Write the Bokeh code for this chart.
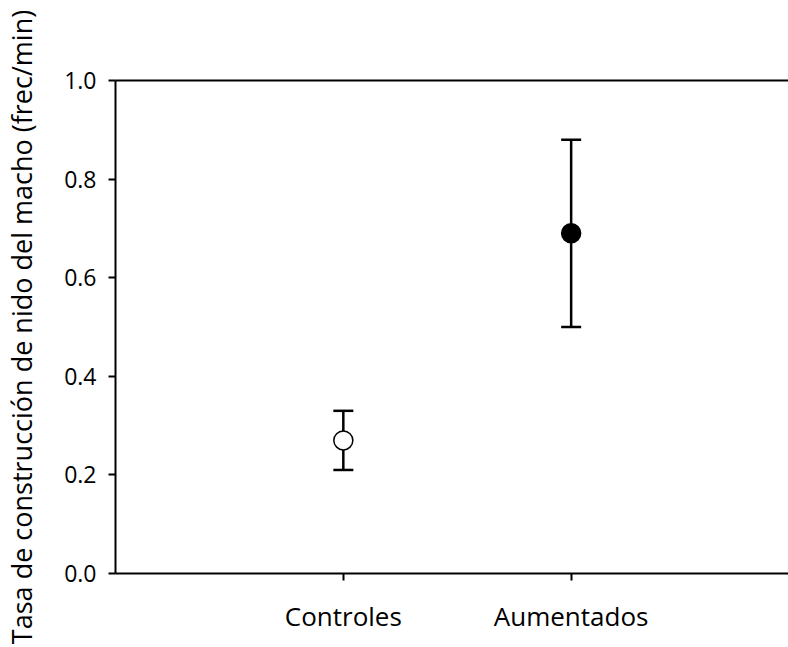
from bokeh.plotting import figure
from bokeh.models import (Range1d, FixedTicker, LinearAxis, Whisker, TeeHead,
                          ColumnDataSource, NumeralTickFormatter)
from bokeh.embed import file_html
from bokeh.resources import INLINE

# Data
categories = ["Controles", "Aumentados"]
positions = [1, 2]
means = [0.27, 0.69]
lower = [0.21, 0.50]
upper = [0.33, 0.88]
fills = ["white", "black"]
y_ticks = [0.0, 0.2, 0.4, 0.6, 0.8, 1.0]
y_label = "Tasa de construcción de nido del macho (frec/min)"

FONT = "Open Sans"

p = figure(width=788, height=647, output_backend="svg", toolbar_location=None,
           x_range=Range1d(0, (788 - 113) / 228.5), y_range=Range1d(0, 1.0),
           min_border_left=113, min_border_right=0, min_border_top=80,
           min_border_bottom=74, x_axis_location=None, y_axis_location=None)
p.outline_line_color = None
p.grid.visible = False
p.background_fill_color = "white"
p.border_fill_color = "white"

# left axis
yaxis = LinearAxis(ticker=FixedTicker(ticks=y_ticks),
                   formatter=NumeralTickFormatter(format="0.0"))
yaxis.axis_label = y_label
yaxis.axis_label_text_font = FONT
yaxis.axis_label_text_font_style = "normal"
yaxis.axis_label_text_font_size = "27px"
yaxis.axis_label_text_color = "black"
yaxis.axis_label_standoff = 21
yaxis.major_label_text_font = FONT
yaxis.major_label_text_font_size = "23px"
yaxis.major_label_text_color = "black"
yaxis.major_label_standoff = 12
yaxis.axis_line_width = 2
yaxis.major_tick_line_width = 2
yaxis.major_tick_out = 7
yaxis.major_tick_in = 0
yaxis.minor_tick_line_color = None
p.add_layout(yaxis, "left")

# bottom axis
xaxis = LinearAxis(ticker=FixedTicker(ticks=positions),
                   major_label_overrides={pos: c for pos, c in zip(positions, categories)})
xaxis.major_label_text_font = FONT
xaxis.major_label_text_font_size = "26px"
xaxis.major_label_text_color = "black"
xaxis.major_label_standoff = 17
xaxis.axis_line_width = 2
xaxis.major_tick_line_width = 2
xaxis.major_tick_out = 7
xaxis.major_tick_in = 0
xaxis.minor_tick_line_color = None
p.add_layout(xaxis, "below")

# top line
taxis = LinearAxis(ticker=FixedTicker(ticks=[]))
taxis.axis_line_width = 2
taxis.major_tick_line_color = None
taxis.minor_tick_line_color = None
taxis.major_label_text_font_size = "0px"
p.add_layout(taxis, "above")

src = ColumnDataSource(dict(x=positions, y=means, lo=lower, hi=upper, fill=fills))

w = Whisker(source=src, base="x", lower="lo", upper="hi", dimension="height",
            line_width=2.5, line_color="black",
            upper_head=TeeHead(size=20, line_width=2.5, line_color="black"),
            lower_head=TeeHead(size=20, line_width=2.5, line_color="black"))
p.add_layout(w)

p.scatter("x", "y", source=src, size=19, fill_color="fill", line_color="black",
          line_width=1.5)

open("out.html", "w").write(file_html(p, INLINE))
